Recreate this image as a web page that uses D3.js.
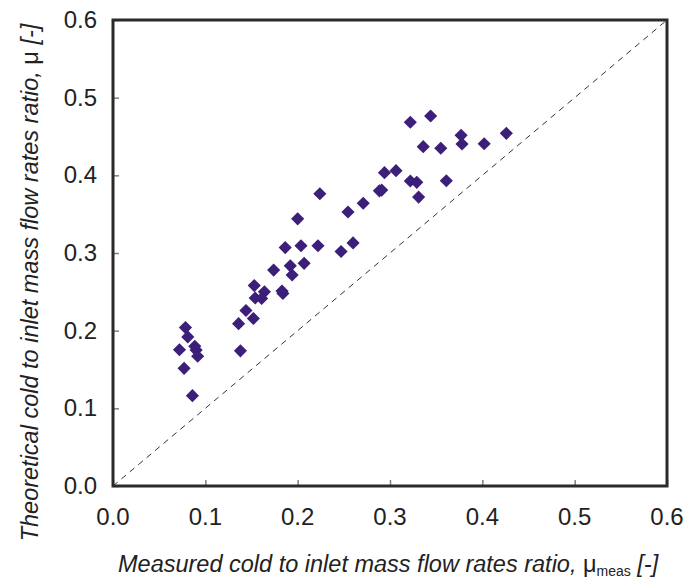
<!DOCTYPE html>
<html>
<head>
<meta charset="utf-8">
<script src="https://cdn.jsdelivr.net/npm/d3@7"></script>
<style>
  body { margin: 0; background: #fff; }
  svg { display: block; font-family: "Liberation Sans", Arial, sans-serif; }
</style>
</head>
<body>
<div id="chart"></div>
<script>
// measured vs theoretical cold mass flow ratio
const measured = [
  0.0785, 0.081, 0.072, 0.0886, 0.090, 0.0917, 0.077, 0.086,
  0.136, 0.138, 0.144, 0.152, 0.153, 0.164, 0.154, 0.161,
  0.174, 0.183, 0.184, 0.1865, 0.192, 0.194, 0.200, 0.2036,
  0.207, 0.222, 0.224, 0.247, 0.2545, 0.271, 0.260,
  0.2885, 0.291, 0.294, 0.3065, 0.322, 0.329, 0.331,
  0.322, 0.344, 0.336, 0.355, 0.361, 0.377, 0.378, 0.402, 0.426
];
const theoretical = [
  0.204, 0.192, 0.1755, 0.180, 0.175, 0.167, 0.1515, 0.1163,
  0.209, 0.174, 0.226, 0.2157, 0.258, 0.250, 0.242, 0.2414,
  0.278, 0.251, 0.248, 0.307, 0.2835, 0.2717, 0.344, 0.3094,
  0.2867, 0.3094, 0.3763, 0.302, 0.3528, 0.364, 0.313,
  0.380, 0.381, 0.4034, 0.406, 0.3927, 0.391, 0.372,
  0.4683, 0.4764, 0.4369, 0.4348, 0.393, 0.4515, 0.4403, 0.4407, 0.4541
];
const tickValues = [0, 0.1, 0.2, 0.3, 0.4, 0.5, 0.6];

const width = 689, height = 580;
const margin = { top: 20, right: 22, bottom: 94, left: 113 };

const svg = d3.select('#chart').append('svg')
  .attr('width', width)
  .attr('height', height);

const x = d3.scaleLinear().domain([0, 0.6]).range([margin.left, width - margin.right]);
const y = d3.scaleLinear().domain([0, 0.6]).range([height - margin.bottom, margin.top]);

// ticks (inside)
const xAxis = svg.append('g')
  .attr('transform', `translate(0,${y(0)})`)
  .call(d3.axisTop(x).tickValues(tickValues).tickSize(6).tickFormat(''));
const yAxis = svg.append('g')
  .attr('transform', `translate(${x(0)},0)`)
  .call(d3.axisRight(y).tickValues(tickValues).tickSize(6).tickFormat(''));
[xAxis, yAxis].forEach(a => {
  a.select('.domain').remove();
  a.selectAll('line').attr('stroke', '#808080').attr('stroke-width', 1.5);
});

// tick labels
svg.append('g').selectAll('text')
  .data(tickValues)
  .join('text')
  .attr('x', d => x(d))
  .attr('y', y(0) + 39)
  .attr('text-anchor', 'middle')
  .attr('font-size', 24)
  .attr('fill', '#222')
  .text(d => d.toFixed(1));

svg.append('g').selectAll('text')
  .data(tickValues)
  .join('text')
  .attr('x', x(0) - 16)
  .attr('y', d => y(d) + 8)
  .attr('text-anchor', 'end')
  .attr('font-size', 24)
  .attr('fill', '#222')
  .text(d => d.toFixed(1));

// 1:1 line
svg.append('line')
  .attr('x1', x(0)).attr('y1', y(0))
  .attr('x2', x(0.6)).attr('y2', y(0.6))
  .attr('stroke', '#333')
  .attr('stroke-width', 1)
  .attr('stroke-dasharray', '6,5');

// points
const diamond = d3.symbol().type(d3.symbolDiamond2).size(110);
svg.append('g').selectAll('path')
  .data(measured.map((m, i) => [m, theoretical[i]]))
  .join('path')
  .attr('d', diamond)
  .attr('transform', d => `translate(${x(d[0])},${y(d[1])})`)
  .attr('fill', '#3b1f78');

// frame
svg.append('rect')
  .attr('x', x(0)).attr('y', y(0.6))
  .attr('width', x(0.6) - x(0)).attr('height', y(0) - y(0.6))
  .attr('fill', 'none')
  .attr('stroke', '#2a2a2a')
  .attr('stroke-width', 3);

// axis titles
const xt = svg.append('text')
  .attr('x', 118)
  .attr('y', 572)
  .attr('font-size', 23.5)
  .attr('fill', '#222');
xt.append('tspan').attr('font-style', 'italic').text('Measured cold to inlet mass flow rates ratio, ');
xt.append('tspan').text('μ');
xt.append('tspan').attr('font-size', 14).attr('dy', 4).text('meas');
xt.append('tspan').attr('font-style', 'italic').attr('dy', -4).text(' [-]');

const yt = svg.append('text')
  .attr('transform', `translate(38,${(margin.top + 545) / 2}) rotate(-90)`)
  .attr('text-anchor', 'middle')
  .attr('font-size', 23.5)
  .attr('fill', '#222');
yt.append('tspan').attr('font-style', 'italic').text('Theoretical cold to inlet mass flow rates ratio, ');
yt.append('tspan').text('μ');
yt.append('tspan').attr('font-style', 'italic').text(' [-]');
</script>
</body>
</html>
